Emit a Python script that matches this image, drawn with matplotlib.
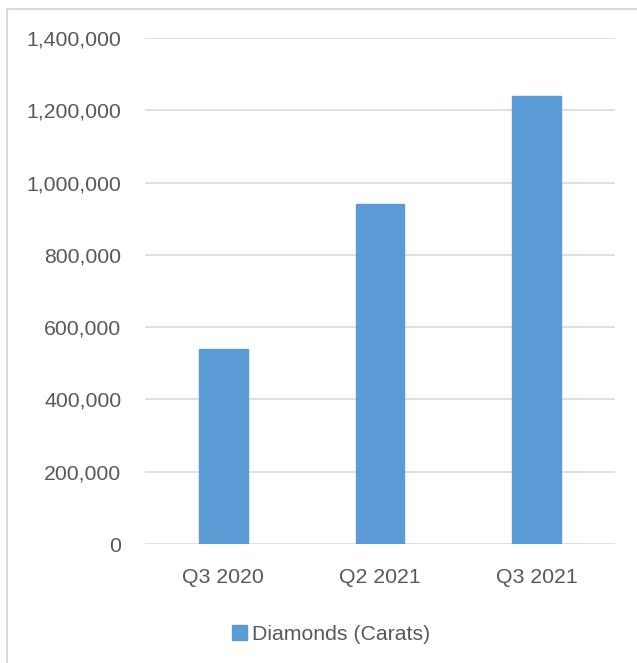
import matplotlib.pyplot as plt
from matplotlib.patches import Rectangle
from matplotlib.ticker import FuncFormatter

# data
quarters = ['Q3 2020', 'Q2 2021', 'Q3 2021']
carats = [540000, 940000, 1240000]
series_name = 'Diamonds (Carats)'

W, H = 637, 663
fig = plt.figure(figsize=(W / 100, H / 100), dpi=100)
plt.rcParams['font.family'] = ['Liberation Sans', 'DejaVu Sans']

# chart frame (cropped on the right and bottom)
fig.patches.append(Rectangle((7 / W, -0.1), 1.2, (H - 9) / H + 0.1,
                             transform=fig.transFigure, fill=False,
                             edgecolor='#d9d9d9', linewidth=1.5))

ax = fig.add_axes([145 / W, (H - 544) / H, 470 / W, 506 / H])
ax.bar(range(len(quarters)), carats, width=0.31, color='#5b9bd5',
       edgecolor='#5b9bd5', label=series_name, zorder=3)

ax.set_xlim(-0.5, len(quarters) - 0.5)
ax.set_ylim(0, 1400000)
ax.set_yticks(range(0, 1400001, 200000))
ax.yaxis.set_major_formatter(FuncFormatter(lambda v, p: f'{int(v):,}'))
ax.set_xticks(range(len(quarters)))
ax.set_xticklabels(quarters)

ax.grid(axis='y', color='#d9d9d9', linewidth=1.2, zorder=0)
ax.set_axisbelow(True)
for s in ax.spines.values():
    s.set_visible(False)
ax.tick_params(axis='both', length=0, labelsize=15.3, labelcolor='#595959')
ax.tick_params(axis='y', pad=17)
ax.tick_params(axis='x', pad=17)

handles, labels = ax.get_legend_handles_labels()
fig.legend(handles, labels, loc='center', bbox_to_anchor=(331 / W, 29 / H),
           frameon=False, fontsize=15.3, labelcolor='#595959',
           handlelength=0.7, handleheight=0.7, handletextpad=0.25)

fig.savefig('out.png', dpi=100)
